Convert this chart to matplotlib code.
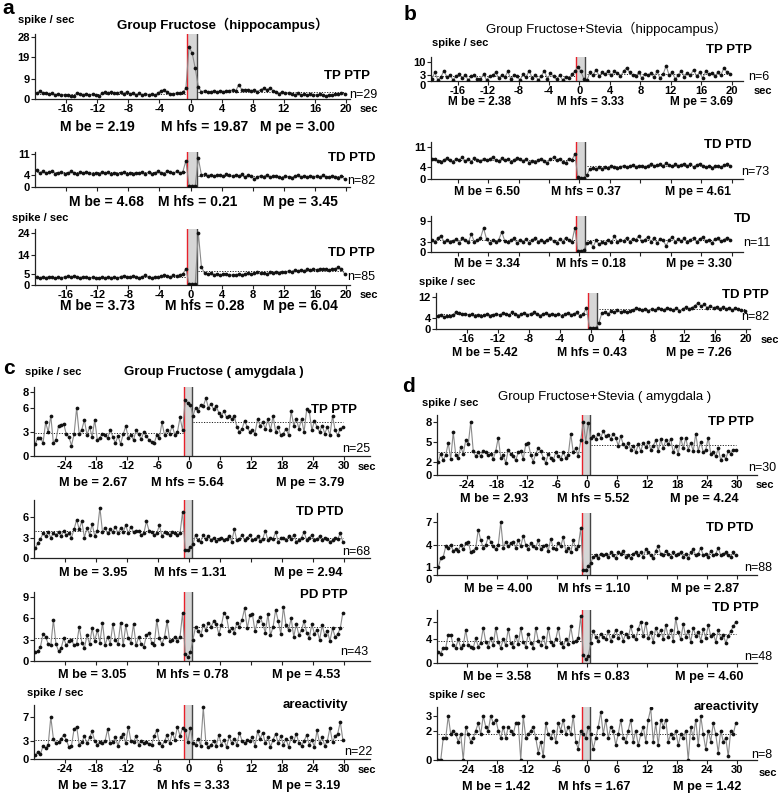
import numpy as np
import matplotlib
matplotlib.use("Agg")
import matplotlib.pyplot as plt

W, H = 778, 796

# bin grids: hippocampus 0.4 s bins from -19.8 s, amygdala 0.5 s bins from -29.75 s
hip_t0, hip_dt = -19.8, 0.4
amy_t0, amy_dt = -29.75, 0.5

# ---------- a: Group Fructose (hippocampus) ----------
a_tp_ptp = [2.5, 3.5, 2.5, 2.8, 2.2, 2.6, 2.0, 2.3, 1.8, 2.0,
            1.8, 1.5, 1.2, 2.8, 2.4, 2.0, 2.3, 1.8, 2.2, 1.6,
            1.4, 2.6, 3.0, 2.6, 3.0, 2.6, 2.8, 3.2, 2.4, 3.3,
            2.2, 2.8, 2.0, 2.5, 1.9, 2.4, 2.0, 2.2, 1.6, 2.6,
            3.8, 4.2, 3.0, 2.4, 2.2, 2.8, 2.6, 3.0, 4.8,
            23.5, 21.0, 14.0,
            5.5, 3.2, 3.8, 3.0, 3.4, 3.6, 3.0, 3.8, 3.4, 3.6,
            3.8, 4.0, 3.6, 6.5, 4.2, 4.0, 4.2, 3.8, 4.0, 3.4,
            4.2, 4.8, 4.2, 5.0, 3.8, 3.4, 2.4, 3.0, 2.6, 2.8,
            2.4, 2.0, 2.6, 1.8, 2.2, 1.6, 2.4, 2.0, 1.8, 2.2,
            1.6, 1.2, 2.0, 1.8, 2.2, 2.4, 2.6, 2.4]
a_td_ptd = [5.6, 4.8, 5.2, 4.6, 4.9, 5.4, 4.5, 4.8, 5.0, 4.4,
            4.6, 5.2, 4.8, 4.5, 5.0, 4.7, 5.1, 4.6, 4.3, 4.8,
            4.5, 5.0, 4.6, 4.9, 4.4, 4.8, 4.2, 4.6, 5.0, 4.4,
            4.7, 4.3, 4.8, 4.6, 5.1, 4.5, 4.9, 4.2, 4.6, 5.2,
            4.8, 4.4, 5.4, 5.0, 4.6, 5.2, 4.8, 5.0, 8.8,
            0.4, 0.3, 0.4,
            9.6, 4.0, 4.2, 3.8, 4.1, 3.6, 4.0, 3.9, 3.7, 4.2,
            3.9, 3.6, 4.0, 3.8, 4.2, 3.5, 3.9, 3.7, 2.6, 3.4,
            3.8, 3.5, 4.0, 3.2, 3.6, 3.8, 3.3, 3.1, 3.7, 3.4,
            3.0, 3.6, 3.9, 3.4, 3.7, 3.2, 3.8, 3.5, 3.6, 3.3,
            3.9, 3.4, 3.2, 3.6, 3.5, 3.0, 3.8, 2.6]
a_td_ptp = [3.6, 3.2, 3.8, 3.4, 3.9, 3.5, 3.1, 3.6, 3.3, 3.8,
            4.0, 3.6, 4.2, 3.8, 3.4, 3.9, 3.5, 3.2, 3.6, 3.4,
            3.0, 3.5, 3.3, 3.7, 3.4, 3.6, 3.2, 3.9, 4.3, 3.8,
            3.5, 4.2, 3.8, 3.4, 3.9, 4.4, 3.6, 3.3, 3.8, 3.5,
            4.0, 4.6, 4.2, 3.8, 4.5, 4.0, 4.8, 5.0, 7.5,
            0.3, 0.3, 0.4,
            24.0, 8.2, 5.5, 5.0, 5.3, 4.8, 5.1, 4.6, 4.9, 5.2,
            4.4, 4.8, 4.5, 5.0, 4.6, 5.2, 5.5, 5.0, 5.4, 5.8,
            5.3, 5.6, 5.2, 5.8, 5.5, 6.0, 5.7, 6.2, 5.9, 6.5,
            6.2, 6.8, 6.4, 7.0, 6.6, 7.2, 6.8, 7.4, 7.0, 7.6,
            7.2, 7.4, 7.0, 7.3, 7.6, 8.2, 7.2, 5.2]
a_means = [("2.19", "19.87", "3.00"), ("4.68", "0.21", "3.45"), ("3.73", "0.28", "6.04")]

# ---------- b: Group Fructose+Stevia (hippocampus) ----------
b_tp_ptp = [2.5, 1.0, 4.5, 0.5, 2.0, 5.5, 2.0, 3.0, 0.5, 2.5,
            3.5, 1.5, 3.0, 0.5, 2.5, 3.0, 1.0, 1.0, 3.5, 0.5,
            2.5, 3.0, 4.5, 1.5, 3.0, 2.0, 5.0, 1.0, 3.0, 2.5,
            0.5, 3.5, 2.0, 5.5, 1.5, 3.0, 0.5, 2.5, 5.5, 1.0,
            4.0, 2.5, 1.0, 3.0, 0.5, 2.0, 1.5, 3.5, 5.0,
            7.5, 5.0, 1.0,
            0.5, 4.5, 3.0, 6.0, 2.5, 4.5, 3.5, 5.5, 3.0, 5.0,
            4.0, 2.5, 5.0, 7.0, 4.5, 3.0, 2.5, 4.5, 1.5, 3.5,
            3.0, 4.0, 2.0, 5.0, 1.5, 3.5, 8.0, 3.0, 4.5, 1.0,
            3.0, 5.5, 2.0, 4.0, 3.0, 6.0, 2.5, 4.5, 1.5, 5.0,
            3.5, 4.0, 2.5, 4.5, 3.0, 7.0, 4.5, 3.5]
b_td_ptd = [5.5, 6.8, 7.0, 6.2, 5.8, 6.6, 7.2, 6.4, 6.0, 6.8,
            6.5, 7.4, 6.2, 6.9, 6.0, 7.2, 6.6, 6.3, 7.0, 6.4,
            6.8, 7.6, 6.5, 6.2, 7.1, 6.4, 6.8, 6.0, 6.6, 7.3,
            6.7, 6.3, 6.9, 5.6, 6.2, 5.8, 6.6, 7.0, 6.2, 5.6,
            6.8, 7.4, 6.5, 7.0, 6.0, 5.4, 7.0, 6.4, 8.6,
            0.6, 0.3, 0.5,
            1.5, 3.6, 3.8, 3.5, 4.0, 3.6, 4.2, 3.8, 4.5, 4.0,
            3.8, 4.2, 4.6, 4.0, 4.4, 4.8, 4.2, 4.6, 4.4, 4.0,
            4.6, 5.2, 4.4, 4.8, 5.0, 4.6, 5.4, 4.8, 4.4, 5.0,
            4.6, 4.9, 5.3, 4.5, 5.0, 4.2, 4.8, 5.2, 4.6, 4.0,
            4.4, 3.8, 4.3, 4.6, 4.0, 4.8, 5.0, 4.4]
b_td = [1.0, 3.5, 3.0, 4.0, 4.8, 3.0, 3.5, 2.8, 3.2, 3.8,
        2.6, 4.2, 3.4, 2.8, 5.2, 3.0, 3.6, 4.0, 7.0, 3.8,
        2.6, 3.4, 3.0, 3.6, 5.8, 3.2, 2.8, 3.5, 4.0, 2.6,
        3.4, 3.0, 3.8, 2.6, 3.5, 4.2, 3.0, 3.6, 2.8, 3.4,
        4.0, 3.2, 2.6, 3.8, 3.0, 4.2, 3.4, 2.8, 7.0,
        0.2, 0.3, 0.6,
        2.5, 3.0, 1.5, 3.4, 2.2, 3.0, 2.6, 3.6, 2.8, 4.6,
        3.0, 3.6, 3.2, 4.2, 3.0, 3.8, 3.4, 4.8, 3.2, 3.6,
        4.5, 3.0, 4.2, 2.6, 3.8, 3.4, 1.8, 3.6, 4.4, 3.0,
        3.8, 3.2, 4.0, 2.8, 3.6, 4.2, 3.0, 3.8, 4.4, 3.2,
        3.6, 2.6, 3.8, 4.0, 3.2, 3.6, 4.2, 3.6]
b_td_ptp = [4.8, 5.2, 4.6, 5.0, 4.8, 5.4, 6.5, 6.0, 5.6, 5.8,
            5.2, 5.6, 5.0, 5.4, 4.8, 5.2, 5.6, 5.0, 5.4, 5.8,
            5.2, 6.0, 5.6, 5.2, 6.2, 5.6, 5.0, 5.6, 6.0, 5.4,
            5.8, 6.2, 5.6, 5.0, 5.5, 6.0, 5.4, 5.8, 5.2, 5.6,
            5.0, 5.6, 6.0, 5.4, 5.8, 6.2, 4.8, 5.6, 8.0,
            0.4, 0.3, 0.5,
            2.2, 6.0, 6.2, 5.8, 6.6, 6.2, 7.0, 6.4, 6.8, 6.2,
            6.6, 7.2, 7.8, 7.4, 7.0, 7.6, 6.8, 7.4, 7.0, 7.8,
            7.4, 7.2, 8.0, 7.6, 7.0, 7.8, 6.6, 7.4, 8.2, 7.6,
            8.0, 8.8, 9.8, 8.6, 9.2, 8.0, 8.6, 7.8, 8.4, 7.6,
            8.2, 7.4, 8.0, 7.2, 7.8, 7.4, 7.0, 6.8]
b_means = [("2.38", "3.33", "3.69"), ("6.50", "0.37", "4.61"),
           ("3.34", "0.18", "3.30"), ("5.42", "0.43", "7.26")]

# ---------- c: Group Fructose (amygdala) ----------
c_tp_ptp = [1.5, 2.3, 2.3, 1.6, 4.2, 3.0, 5.0, 1.6, 2.0, 3.8,
            3.9, 4.0, 2.7, 2.4, 1.3, 2.7, 6.0, 2.7, 3.3, 4.5,
            2.6, 3.6, 2.4, 4.5, 2.0, 2.3, 2.8, 2.6, 2.2, 3.3,
            2.4, 1.6, 2.5, 1.5, 2.7, 3.7, 2.3, 2.6, 2.0, 3.2,
            2.7, 2.1, 3.0, 2.5, 2.0, 1.7, 1.6, 2.6, 2.2, 4.2,
            2.6, 3.2, 2.8, 3.8, 2.6, 3.0, 4.8, 3.2,
            7.0, 6.6, 6.4,
            5.0, 6.0, 5.6, 6.4, 6.2, 7.2, 6.0, 6.5, 5.8, 6.2,
            5.4, 5.0, 5.6, 4.8, 5.0, 4.6, 5.0, 3.6, 3.0, 3.4,
            4.4, 3.6, 3.0, 3.2, 2.8, 4.6, 3.8, 4.2, 3.4, 4.6,
            3.2, 5.0, 3.0, 3.6, 2.6, 2.8, 3.4, 2.6, 5.6, 3.8,
            4.6, 3.4, 4.6, 3.0, 5.8, 5.6, 3.2, 4.4, 3.6, 3.0,
            3.8, 2.8, 3.6, 2.6, 5.0, 3.2, 2.6, 3.4, 3.6]
c_td_ptd = [1.4, 2.2, 2.8, 3.6, 3.2, 3.8, 3.0, 3.6, 3.4, 3.8,
            3.2, 4.0, 3.4, 3.6, 3.0, 4.2, 5.6, 4.2, 5.4, 3.0,
            4.4, 3.4, 5.0, 3.2, 4.0, 7.4, 3.8, 4.4, 3.6, 4.2,
            3.8, 4.6, 3.6, 4.4, 3.8, 4.8, 3.6, 4.6, 3.8, 4.0,
            4.0, 3.4, 3.6, 5.4, 4.0, 3.8, 3.4, 3.6, 4.8, 3.2,
            3.8, 3.6, 3.4, 3.8, 3.6, 3.4, 3.6, 6.8,
            1.1, 1.1, 1.6,
            2.0, 3.4, 2.6, 2.4, 3.4, 2.8, 3.2, 2.6, 3.0, 2.5,
            2.8, 3.0, 2.6, 2.8, 3.2, 2.4, 4.2, 2.6, 2.8, 3.4,
            2.6, 3.0, 3.4, 2.6, 2.8, 3.2, 2.5, 2.8, 4.0, 2.6,
            3.0, 2.8, 3.8, 2.4, 2.9, 3.0, 2.6, 3.2, 2.8, 3.4,
            2.4, 2.6, 3.0, 3.8, 2.6, 3.0, 3.4, 2.6, 2.8, 3.2,
            2.6, 3.0, 2.8, 2.4, 2.6, 3.0, 2.8, 3.6, 2.4]
c_pd_ptp = [1.2, 1.4, 2.0, 3.8, 3.4, 2.4, 2.2, 5.8, 2.4, 1.4,
            1.8, 3.2, 2.2, 2.8, 3.0, 2.2, 2.4, 4.8, 2.6, 1.8,
            3.6, 2.4, 4.6, 2.8, 4.4, 2.6, 5.4, 2.2, 3.4, 2.4,
            5.2, 3.0, 2.4, 5.4, 2.2, 5.0, 3.2, 2.6, 5.2, 2.2,
            3.4, 2.4, 2.0, 3.6, 4.0, 2.6, 2.2, 5.8, 3.2, 2.4,
            3.4, 5.6, 2.8, 3.0, 3.4, 2.8, 3.4, 6.8,
            1.0, 0.5, 1.2,
            3.0, 4.8, 4.2, 3.6, 5.0, 4.4, 5.4, 4.8, 5.6, 5.2,
            3.8, 5.0, 6.8, 6.2, 4.2, 4.6, 4.0, 5.4, 4.8, 5.8,
            7.4, 4.6, 6.4, 6.6, 4.2, 5.6, 6.2, 5.2, 4.0, 6.6,
            3.6, 4.8, 7.2, 5.6, 3.8, 7.6, 5.0, 4.4, 6.0, 3.4,
            5.2, 3.6, 4.4, 5.6, 4.0, 3.2, 5.2, 3.8, 4.4, 3.0,
            5.0, 3.6, 4.2, 2.8, 4.6, 3.4, 3.8, 4.6, 6.8]
c_areact = [0.6, 1.2, 0.8, 2.2, 1.8, 2.4, 7.0, 3.4, 2.6, 2.8,
            3.4, 4.0, 3.2, 2.0, 2.2, 5.0, 5.4, 2.4, 2.8, 3.8,
            2.6, 3.6, 4.6, 3.0, 2.4, 2.8, 2.6, 3.0, 5.0, 2.6,
            2.8, 3.6, 2.2, 3.6, 4.2, 2.6, 5.4, 3.0, 2.8, 3.8,
            2.4, 3.0, 2.6, 2.8, 2.5, 2.4, 3.8, 4.8, 2.6, 2.2,
            3.0, 4.0, 2.6, 4.4, 3.2, 5.4, 3.8, 5.2,
            4.8, 2.8, 5.2,
            2.6, 2.4, 3.4, 2.2, 8.6, 2.6, 2.0, 2.4, 3.0, 2.2,
            4.0, 2.4, 3.2, 2.0, 3.8, 2.6, 3.4, 2.4, 4.4, 3.0,
            2.6, 3.2, 3.0, 3.6, 2.2, 4.6, 3.4, 4.4, 2.6, 3.6,
            2.0, 3.2, 4.2, 2.6, 3.8, 2.4, 3.4, 2.0, 3.6, 3.0,
            4.2, 2.6, 2.2, 3.0, 4.0, 2.4, 3.2, 2.0, 4.8, 2.6,
            3.6, 2.2, 3.0, 5.2, 2.8, 3.8, 4.2, 6.2, 3.2]
c_means = [("2.67", "5.64", "3.79"), ("3.95", "1.31", "2.94"),
           ("3.05", "0.78", "4.53"), ("3.17", "3.33", "3.19")]

# ---------- d: Group Fructose+Stevia (amygdala) ----------
d_tp_ptp = [2.0, 3.2, 2.2, 3.0, 4.8, 2.4, 6.4, 3.0, 2.6, 4.2,
            3.2, 5.2, 4.6, 8.0, 3.6, 2.8, 3.4, 2.8, 3.6, 3.4,
            3.0, 3.2, 2.4, 3.6, 5.6, 2.6, 3.0, 1.8, 3.8, 3.2,
            2.8, 2.2, 3.4, 3.6, 2.4, 4.6, 4.8, 3.0, 2.0, 3.2,
            4.0, 3.6, 2.6, 1.8, 3.2, 2.6, 2.2, 3.4, 2.8, 2.4,
            3.4, 2.6, 3.0, 6.2, 3.4, 4.0, 2.8, 5.2,
            8.0, 5.0, 7.8,
            5.6, 5.8, 5.4, 6.2, 5.6, 6.6, 5.8, 6.0, 5.4, 6.2,
            5.6, 4.4, 5.8, 4.6, 4.2, 4.8, 3.8, 4.4, 3.4, 4.6,
            3.6, 4.8, 4.2, 5.0, 3.8, 4.4, 5.2, 3.6, 5.4, 4.0,
            5.2, 4.6, 5.4, 3.4, 4.4, 3.2, 5.6, 4.0, 5.6, 3.8,
            4.8, 3.6, 6.2, 3.6, 5.0, 3.4, 3.8, 5.6, 3.2, 3.4,
            2.8, 4.0, 2.2, 3.0, 2.4, 3.6, 3.2, 3.8, 3.8]
d_td_ptd = [1.0, 2.2, 2.4, 3.8, 3.6, 4.0, 3.2, 3.4, 3.2, 4.0,
            3.4, 4.2, 4.4, 3.0, 3.2, 3.6, 6.0, 4.6, 3.6, 4.0,
            5.0, 4.4, 3.8, 3.4, 4.0, 7.0, 3.6, 4.4, 3.8, 4.2,
            4.4, 3.6, 4.6, 3.8, 5.2, 4.0, 3.4, 4.2, 3.8, 3.6,
            4.6, 3.4, 3.8, 4.0, 3.2, 4.8, 3.6, 3.4, 4.2, 3.8,
            5.0, 3.2, 3.6, 3.0, 4.6, 3.4, 3.8, 6.2,
            0.6, 0.6, 1.2,
            1.6, 2.4, 2.6, 2.2, 2.8, 2.6, 2.8, 2.4, 3.0, 2.6,
            2.2, 3.0, 2.8, 3.2, 2.4, 2.6, 2.2, 2.8, 3.0, 2.6,
            3.0, 2.4, 3.4, 3.0, 2.6, 2.2, 3.2, 3.8, 2.8, 2.6,
            3.2, 2.8, 2.4, 3.0, 2.6, 2.8, 3.0, 2.4, 2.8, 2.2,
            3.0, 3.4, 2.6, 2.8, 3.6, 2.6, 2.8, 2.4, 3.2, 2.6,
            2.8, 3.6, 2.6, 2.8, 3.0, 2.6, 2.4, 3.0, 2.6]
d_td_ptp = [1.8, 1.6, 2.6, 2.6, 4.8, 4.8, 3.0, 2.6, 4.0, 2.6,
            3.0, 5.6, 3.0, 2.8, 2.6, 4.2, 2.8, 3.4, 6.0, 3.6,
            2.8, 4.2, 3.0, 6.0, 3.6, 2.6, 4.0, 3.0, 5.8, 3.4,
            2.8, 4.6, 3.2, 6.0, 3.6, 2.8, 5.0, 3.4, 2.6, 6.0,
            3.8, 3.0, 4.4, 2.8, 6.0, 3.6, 3.0, 4.0, 6.0, 3.4,
            2.8, 4.0, 3.2, 6.2, 3.6, 3.8, 4.2, 8.0,
            1.4, 0.6, 1.2,
            3.4, 5.4, 4.4, 3.8, 5.0, 4.4, 4.0, 5.4, 3.8, 4.6,
            5.6, 4.2, 5.2, 3.8, 5.0, 4.4, 6.2, 4.6, 4.0, 5.8,
            7.0, 4.6, 6.8, 4.2, 5.2, 3.6, 6.0, 4.8, 5.6, 4.0,
            6.4, 4.4, 5.6, 3.8, 7.6, 5.2, 4.0, 6.6, 4.4, 5.4,
            3.6, 6.0, 4.6, 5.2, 3.8, 5.8, 4.2, 6.4, 4.6, 5.0,
            3.6, 5.6, 4.2, 4.8, 3.4, 4.6, 5.4, 6.2, 7.0]
d_areact = [0.0, 0.0, 1.5, 1.5, 3.0, 1.75, 2.0, 1.75, 1.25, 1.75,
            0.0, 2.25, 1.75, 1.25, 1.5, 2.0, 2.5, 1.75, 3.0, 2.25,
            2.0, 3.0, 2.5, 2.75, 2.0, 1.5, 2.25, 1.5, 2.25, 2.0,
            1.75, 2.5, 2.5, 0.0, 3.0, 1.5, 1.75, 2.0, 2.25, 1.5,
            0.5, 1.25, 0.25, 2.5, 1.75, 1.5, 2.0, 1.25, 2.5, 2.0,
            2.75, 1.75, 2.25, 1.75, 3.0, 1.25, 0.75, 2.0,
            1.75, 1.5, 2.25,
            1.75, 0.75, 1.5, 2.25, 3.25, 1.75, 2.75, 1.5, 2.25, 2.0,
            1.0, 1.75, 2.75, 1.5, 1.25, 2.0, 2.75, 1.25, 2.0, 1.0,
            1.75, 2.25, 1.25, 2.75, 3.5, 1.25, 2.5, 1.0, 2.75, 2.25,
            2.75, 1.25, 1.75, 1.5, 2.0, 1.0, 1.75, 1.5, 2.0, 0.0,
            2.25, 1.5, 2.75, 1.0, 3.0, 1.75, 0.75, 2.0, 1.25, 2.5,
            1.75, 0.5, 2.0, 1.25, 1.5, 0.25, 2.0, 1.75, 2.5]
d_means = [("2.93", "5.52", "4.24"), ("4.00", "1.10", "2.87"),
           ("3.58", "0.83", "4.60"), ("1.42", "1.67", "1.42")]

hip_ticks = [-16, -12, -8, -4, 0, 4, 8, 12, 16, 20]
amy_ticks = [-24, -18, -12, -6, 0, 6, 12, 18, 24, 30]

plt.rcParams['font.family'] = ['Liberation Sans', 'Noto Sans CJK SC', 'DejaVu Sans']

fig = plt.figure(figsize=(W / 100, H / 100), dpi=100)
fig.patch.set_facecolor('white')


def ftext(x, y, s, size=10, ha='center', weight='bold', **kw):
    fig.text(x / W, 1 - y / H, s, fontsize=size, ha=ha, va='center',
             fontweight=weight, **kw)


def psth(y, t0, dt, box, ytop, yticks, xlim, xticks, band, name, name_xy,
         n, n_xy, means, m_x, m_y, m_size=10, labels=None):
    left, right, top, zero = box
    ax = fig.add_axes([left / W, 1 - zero / H, (right - left) / W, (zero - top) / H])
    y = np.asarray(y, dtype=float)
    t = t0 + dt * np.arange(len(y))

    ax.axvspan(band[0], band[1], color='#d6d6d6', lw=0, zorder=0)
    ax.axvline(band[0], color='#e8202a', lw=1.0, zorder=1)
    ax.axvline(band[1], color='#444444', lw=1.0, zorder=1)

    pre, post = t < band[0], t > band[1]
    for seg in (pre, post):
        ax.hlines(y[seg].mean(), t[seg][0], t[seg][-1], colors='#222222',
                  linestyles=(0, (1.2, 1.5)), lw=0.7, zorder=1)

    ax.plot(t, y, color='#8a8a8a', lw=0.8, zorder=2)
    ax.plot(t, y, 'o', color='#111111', ms=2.7, mew=0, zorder=3)

    ax.set_xlim(*xlim)
    ax.set_ylim(0, ytop)
    for s in ('top', 'right'):
        ax.spines[s].set_visible(False)
    for s in ('left', 'bottom'):
        ax.spines[s].set_linewidth(0.9)
        ax.spines[s].set_color('#222222')
    ax.set_yticks(yticks)
    ylabs = ax.set_yticklabels([str(v) for v in yticks], fontsize=8, fontweight='bold')
    # the lowest two labels sit very close in the small panels: drop "0" under its tick
    if yticks[1] / ytop * (zero - top) < 10:
        ylabs[0].set_verticalalignment('top')
    ax.set_xticks(xticks)
    if labels:
        ax.set_xticklabels([str(v) for v in xticks], fontsize=8, fontweight='bold')
    else:
        ax.set_xticklabels([])
    ax.tick_params(axis='both', direction='out', length=3, width=0.8, pad=0.8,
                   color='#222222')
    ax.patch.set_alpha(0)

    ftext(name_xy[0], name_xy[1], name, size=9.5, ha='right')
    ftext(n_xy[0], n_xy[1], "n=%d" % n, size=9, ha='right', weight='normal')
    for lab, val, x in zip(("M be", "M hfs", "M pe"), means, m_x):
        ftext(x, m_y, "%s = %s" % (lab, val), size=m_size)
    if labels:
        ftext(labels[0], labels[1], "sec", size=8, ha='left')
    return ax


hip_x = (-20, 20.5)
amy_x = (-30, 35)
hip_band = (-0.4, 0.8)
amy_band = (-1.0, 0.5)

# ----- panel a -----
ftext(2, 8, "a", size=15, ha='left')
ftext(18, 20, "spike / sec", size=8, ha='left')
ftext(223, 25, "Group Fructose（hippocampus）", size=9.5)
psth(a_tp_ptp, hip_t0, hip_dt, (35, 350, 34, 99), 29.5, [0, 9, 19, 28], hip_x,
     hip_ticks, hip_band, "TP PTP", (370, 76), 29, (377, 95), a_means[0],
     (97, 205, 297), 127, labels=(360, 109))
psth(a_td_ptd, hip_t0, hip_dt, (35, 350, 152, 187), 11.7, [0, 4, 11], hip_x,
     hip_ticks, hip_band, "TD PTD", (375, 158), 82, (375, 181), a_means[1],
     (106, 198, 300), 202)
ftext(12, 218, "spike / sec", size=8, ha='left')
psth(a_td_ptp, hip_t0, hip_dt, (35, 350, 229, 285), 25.8, [0, 5, 14, 24], hip_x,
     hip_ticks, hip_band, "TD PTP", (375, 253), 85, (375, 277), a_means[2],
     (97, 205, 300), 306, labels=(360, 295))

# ----- panel b -----
ftext(404, 14, "b", size=15, ha='left')
ftext(606, 29, "Group Fructose+Stevia（hippocampus）", size=9.5, weight='normal')
ftext(432, 43, "spike / sec", size=8, ha='left')
psth(b_tp_ptp, hip_t0, hip_dt, (431, 743, 57, 81), 12.6, [0, 3, 10], (-19.5, 21.5),
     hip_ticks, hip_band, "TP PTP", (752, 50), 6, (769, 77), b_means[0],
     (479, 590, 701), 102, m_size=8.5, labels=(754, 91))
psth(b_td_ptd, hip_t0, hip_dt, (431, 743, 142, 179), 12.7, [0, 4, 11], (-19.5, 21.5),
     hip_ticks, hip_band, "TD PTD", (751, 145), 73, (769, 172), b_means[1],
     (487, 586, 698), 192, m_size=8.8)
psth(b_td, hip_t0, hip_dt, (431, 743, 216, 252), 10.5, [0, 3, 9], (-19.5, 21.5),
     hip_ticks, hip_band, "TD", (751, 219), 11, (771, 243), b_means[2],
     (487, 591, 699), 264, m_size=8.8)
ftext(419, 282, "spike / sec", size=8, ha='left')
psth(b_td_ptp, hip_t0, hip_dt, (436, 750, 293, 329), 13.5, [0, 4, 12], hip_x,
     hip_ticks, hip_band, "TD PTP", (769, 295), 82, (769, 317), b_means[3],
     (485, 592, 699), 353, m_size=8.8, labels=(761, 340))

# ----- panel c -----
ftext(3, 368, "c", size=15, ha='left')
ftext(25, 372, "spike / sec", size=8, ha='left')
ftext(214, 372, "Group Fructose ( amygdala )", size=9.5)
psth(c_tp_ptp, amy_t0, amy_dt, (34, 370, 387, 456), 8.6, [0, 3, 6, 8], amy_x,
     amy_ticks, amy_band, "TP PTP", (357, 410), 25, (370, 449), c_means[0],
     (93, 187, 310), 483, m_size=9.2, labels=(358, 467))
psth(c_td_ptd, amy_t0, amy_dt, (34, 370, 500, 558), 8.5, [0, 3, 6], amy_x,
     amy_ticks, amy_band, "TD PTD", (343, 512), 68, (370, 552), c_means[1],
     (93, 190, 308), 573, m_size=9.2)
psth(c_pd_ptp, amy_t0, amy_dt, (34, 370, 592, 661), 9.7, [0, 3, 6, 9], amy_x,
     amy_ticks, amy_band, "PD PTP", (348, 595), 43, (368, 652), c_means[2],
     (92, 192, 306), 675, m_size=9.2)
ftext(27, 693, "spike / sec", size=8, ha='left')
psth(c_areact, amy_t0, amy_dt, (34, 370, 705, 759), 9.0, [0, 3, 7], amy_x,
     amy_ticks, amy_band, "areactivity", (348, 705), 22, (372, 752), c_means[3],
     (92, 193, 306), 786, m_size=9.2, labels=(358, 770))

# ----- panel d -----
ftext(402, 387, "d", size=15, ha='left')
ftext(605, 397, "Group Fructose+Stevia ( amygdala )", size=9.5, weight='normal')
ftext(422, 403, "spike / sec", size=8, ha='left')
amy_xd = (-30, 34)
psth(d_tp_ptp, amy_t0, amy_dt, (437, 757, 415, 475), 9.0, [0, 2, 5, 8], amy_xd,
     amy_ticks, amy_band, "TP PTP", (754, 422), 30, (776, 468), d_means[0],
     (494, 593, 704), 499, m_size=9.2, labels=(756, 485))
psth(d_td_ptd, amy_t0, amy_dt, (437, 757, 513, 575), 8.2, [0, 1, 4, 7], amy_xd,
     amy_ticks, amy_band, "TD PTD", (754, 528), 88, (772, 568), d_means[1],
     (498, 594, 705), 589, m_size=9.2)
psth(d_td_ptp, amy_t0, amy_dt, (437, 757, 610, 663), 9.0, [0, 4, 7], amy_xd,
     amy_ticks, amy_band, "TD PTP", (759, 608), 48, (772, 657), d_means[2],
     (497, 593, 709), 677, m_size=9.2)
ftext(429, 695, "spike / sec", size=8, ha='left')
psth(d_areact, amy_t0, amy_dt, (437, 757, 707, 760), 3.6, [0, 2, 3], amy_xd,
     amy_ticks, amy_band, "areactivity", (759, 707), 8, (772, 755), d_means[3],
     (496, 594, 707), 787, m_size=9.2, labels=(759, 773))

fig.savefig("out.png", dpi=100, facecolor='white')
